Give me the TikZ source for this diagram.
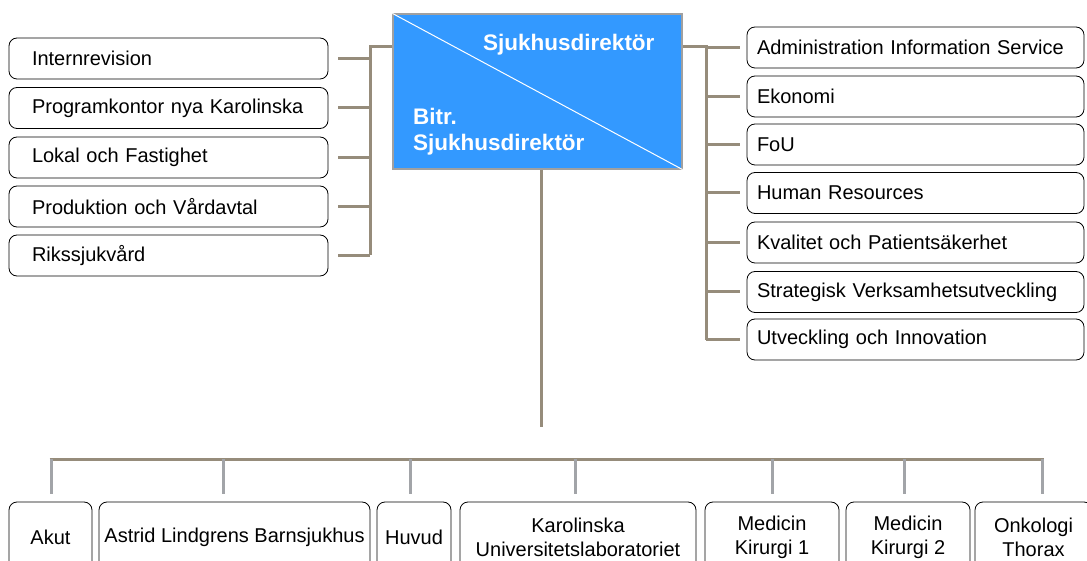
\documentclass[tikz,border=0pt]{standalone}
\usepackage{fontspec}
\setmainfont{Liberation Sans}
\definecolor{taupe}{HTML}{968C7B}
\definecolor{dropgray}{HTML}{A2A4A8}
\definecolor{dirblue}{HTML}{3399FF}
\definecolor{dirborder}{HTML}{A0A0A0}
\newcommand\regfont{\fontsize{20}{24}\selectfont}
\newcommand\hdrfont{\fontsize{22.5}{26.5}\selectfont\bfseries}
\begin{document}
\begin{tikzpicture}[x=1pt,y=-1pt,
  conn/.style={draw=taupe, line width=3pt},
  drop/.style={draw=dropgray, line width=3pt},
  unitbox/.style={draw=black, line width=0.8pt, rounded corners=8pt, fill=white},
  leftbox/.style={unitbox, minimum height=41pt, inner xsep=23pt, inner ysep=0pt, text width=273pt, align=left, font=\regfont},
  rightbox/.style={unitbox, minimum height=41pt, inner xsep=10pt, inner ysep=0pt, text width=317pt, align=left, font=\regfont},
  botbox/.style={unitbox, minimum height=70pt, inner sep=0pt, align=center, font=\regfont},
  hdr/.style={text=white, font=\hdrfont, inner sep=0pt, align=left}
]
\useasboundingbox (0,0) rectangle (1087,561);
\clip (0,0) rectangle (1087,561);

% director box
\node[draw=dirborder, line width=1.2pt, fill=dirblue, minimum width=289pt, minimum height=155pt, inner sep=0pt] (dir) at (537.5,91.5) {};
\draw[white, line width=1pt] (dir.north west) -- (dir.south east);
\node[hdr, anchor=base west] (dirname) at (483,51) {Sjukhusdirektör};
\node[hdr, anchor=base west] (bitr) at (413,125) {Bitr.};
\node[hdr, anchor=base west] (bitrname) at (413,151) {Sjukhusdirektör};

% left boxes
\node[leftbox] (L1) at (168.5,58.5) {Internrevision};
\node[leftbox] (L2) at (168.5,108) {Programkontor nya Karolinska};
\node[leftbox] (L3) at (168.5,157.5) {Lokal och Fastighet};
\node[leftbox] (L4) at (168.5,206.5) {Produktion och Vårdavtal};
\node[leftbox] (L5) at (168.5,255.5) {Rikssjukvård};

% right boxes
\node[rightbox] (R1) at (915.5,47.5) {Administration Information Service};
\node[rightbox] (R2) at (915.5,96.5) {Ekonomi};
\node[rightbox] (R3) at (915.5,144.5) {FoU};
\node[rightbox] (R4) at (915.5,193) {Human Resources};
\node[rightbox] (R5) at (915.5,242.5) {Kvalitet och Patientsäkerhet};
\node[rightbox] (R6) at (915.5,292) {Strategisk Verksamhetsutveckling};
\node[rightbox] (R7) at (915.5,339.5) {Utveckling och Innovation};

% bottom boxes
\node[botbox, minimum width=83pt] (B1) at (50.5,537) {Akut};
\node[botbox, minimum width=271pt] (B2) at (234.5,537) {Astrid Lindgrens Barnsjukhus};
\node[botbox, minimum width=74pt] (B3) at (414,537) {Huvud};
\node[botbox, minimum width=236pt] (B4) at (578,537) {Karolinska\\Universitetslaboratoriet};
\node[botbox, minimum width=134pt] (B5) at (772,537) {Medicin\\Kirurgi 1};
\node[botbox, minimum width=124pt] (B6) at (908,537) {Medicin\\Kirurgi 2};
\node[botbox, minimum width=117pt] (B7) at (1033.5,537) {Onkologi\\Thorax};

% left connectors
\coordinate (lj) at (370,47);
\draw[conn] (dir.west |- lj) -- (lj) -- (L5.east -| lj);
\foreach \n in {L1,L2,L3,L4,L5}
  \draw[conn] ([xshift=10pt]\n.east) -- (\n.east -| lj);

% right connectors
\coordinate (rj) at (706,47);
\draw[conn] (dir.east |- rj) -- (rj) -- (R7.west -| rj);
\foreach \n in {R1,R2,R3,R4,R5,R6,R7}
  \draw[conn] (\n.west -| rj) -- ([xshift=-7pt]\n.west);

% central trunk and bus
\coordinate (trunk) at (541,427);
\draw[conn] (dir.south -| trunk) -- (trunk);
\coordinate (busL) at (49.5,459);
\coordinate (busR) at (1043.5,459);
\draw[conn] (busL) -- (busR);
\foreach \n/\x in {B1/51,B2/223,B3/410,B4/575,B5/772,B6/904,B7/1042}
  \draw[drop] (\x,459) -- ([yshift=8pt]\n.north -| \x,0);
\end{tikzpicture}
\end{document}
